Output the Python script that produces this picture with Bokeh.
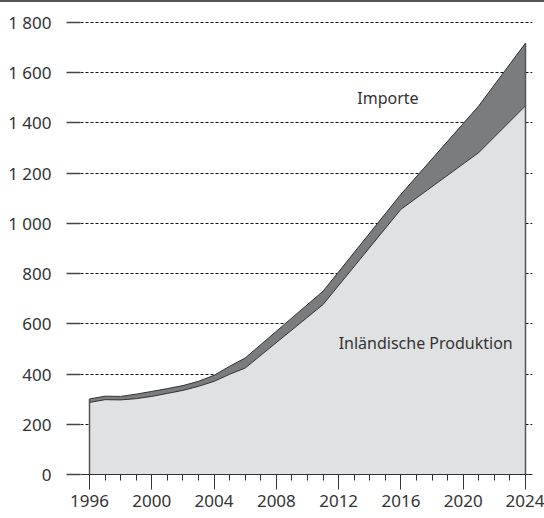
from bokeh.plotting import figure
from bokeh.models import (Range1d, FixedTicker, SingleIntervalTicker,
                          ColumnDataSource, Label)
from bokeh.embed import file_html
from bokeh.resources import INLINE

# ---- data ----
years = [1996, 1997, 1998, 1999, 2000, 2001, 2002, 2003, 2004, 2005, 2006, 2011, 2016, 2021, 2024]
domestic = [287, 298, 297, 302, 311, 323, 335, 351, 371, 399, 424, 677, 1056, 1282, 1468]
imports = [14, 14, 14, 18, 20, 19, 19, 20, 24, 32, 40, 53, 60, 186, 250]
yticks = [0, 200, 400, 600, 800, 1000, 1200, 1400, 1600, 1800]
ytick_labels = ["0", "200", "400", "600", "800", "1 000", "1 200", "1 400", "1 600", "1 800"]
series_labels = ["Inländische Produktion", "Importe"]

total = [d + i for d, i in zip(domestic, imports)]
src = ColumnDataSource(dict(x=years, dom=domestic, tot=total, zero=[0] * len(years)))

FONT = "Noto Sans"
TXT = "#333333"

p = figure(width=544, height=516, output_backend="svg", toolbar_location=None,
           x_range=Range1d(1995.422, 2024.45), y_range=Range1d(0, 1879.6),
           min_border_left=80, min_border_right=12, min_border_bottom=44, min_border_top=0,
           outline_line_color=None, background_fill_color="white",
           border_fill_color="white")
p.styles = {"border-top": "2px solid #555555"}

# grid
p.xgrid.grid_line_color = None
p.ygrid.ticker = FixedTicker(ticks=yticks)
p.ygrid.grid_line_color = "#111111"
p.ygrid.grid_line_dash = "3 2"
p.ygrid.grid_line_width = 1

# areas
p.varea(x="x", y1="zero", y2="dom", source=src, fill_color="#e0e1e3")
p.varea(x="x", y1="dom", y2="tot", source=src, fill_color="#7b7c7e")
p.line(x="x", y="dom", source=src, line_color="#333333", line_width=1)
p.line(x="x", y="tot", source=src, line_color="#333333", line_width=1)
p.segment(x0=[years[0], years[-1]], y0=[0, 0], x1=[years[0], years[-1]],
          y1=[total[0], total[-1]], line_color="#555555", line_width=1.5)

# y axis
ya = p.yaxis[0]
ya.ticker = FixedTicker(ticks=yticks)
ya.major_label_overrides = {t: l for t, l in zip(yticks, ytick_labels)}
ya.axis_line_color = None
ya.major_tick_out = 14
ya.major_tick_in = 0
ya.major_tick_line_color = "#444444"
ya.major_tick_line_width = 1.5
ya.minor_tick_line_color = None
ya.major_label_standoff = 15
ya.major_label_text_font = FONT
ya.major_label_text_font_size = "17px"
ya.major_label_text_color = TXT

# x axis
xa = p.xaxis[0]
xa.ticker = SingleIntervalTicker(interval=4, num_minor_ticks=4)
xa.axis_line_color = "#333333"
xa.axis_line_width = 1.2
xa.major_tick_out = 15
xa.major_tick_in = 0
xa.minor_tick_out = 6
xa.minor_tick_in = 0
xa.major_tick_line_color = "#333333"
xa.minor_tick_line_color = "#333333"
xa.major_label_standoff = 5
xa.major_label_text_font = FONT
xa.major_label_text_font_size = "17px"
xa.major_label_text_color = TXT

# labels
p.add_layout(Label(x=2013.2, y=1500, text=series_labels[1], text_font=FONT,
                   text_font_size="16px", text_color=TXT, text_baseline="middle"))
p.add_layout(Label(x=2012.0, y=525, text=series_labels[0], text_font=FONT,
                   text_font_size="16px", text_color=TXT, text_baseline="middle"))

open("out.html", "w").write(file_html(p, INLINE))
